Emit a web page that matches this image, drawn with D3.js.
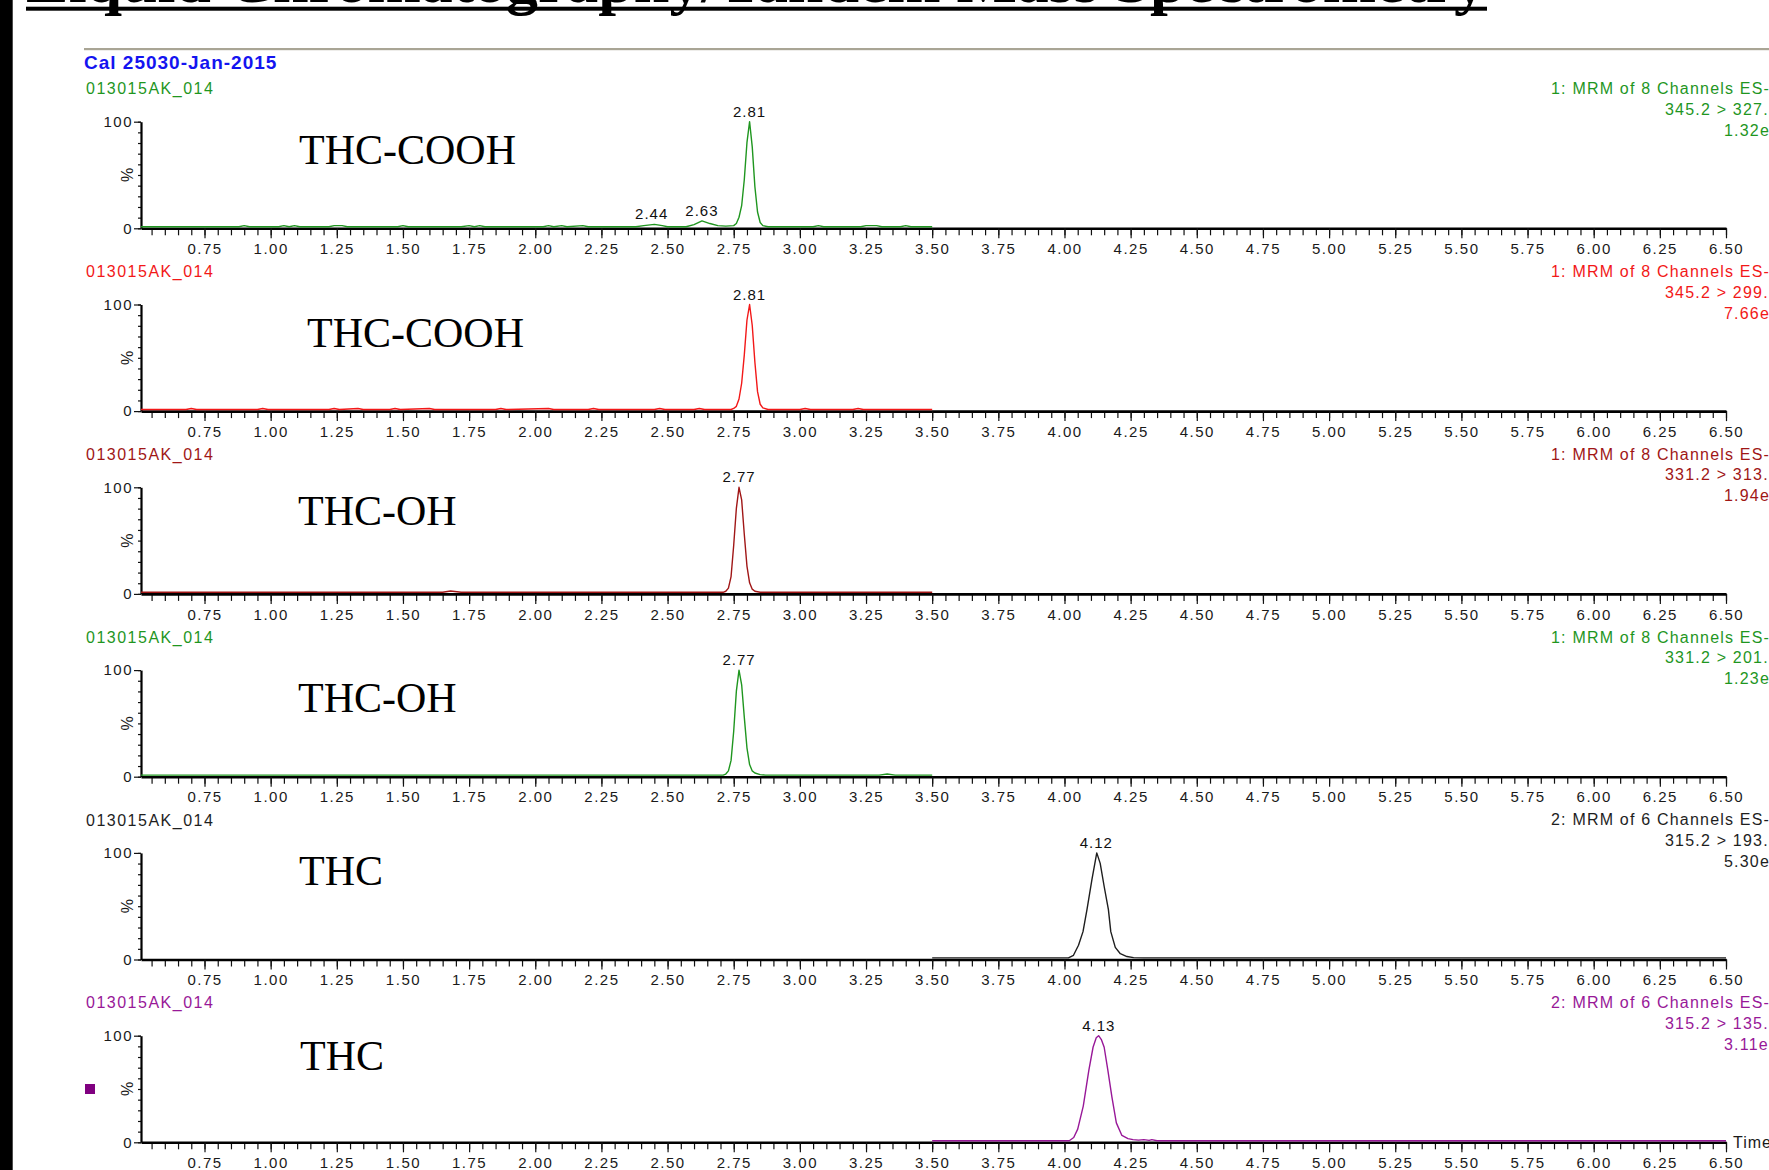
<!DOCTYPE html>
<html>
<head>
<meta charset="utf-8">
<script src="https://cdn.jsdelivr.net/npm/d3@7"></script>
<style>
  html, body { margin: 0; padding: 0; background: #fff; overflow: hidden; }
  svg { display: block; }
  text { font-family: "Liberation Sans", Arial, sans-serif; }
</style>
</head>
<body>
<svg id="chart" width="1769" height="1170"></svg>
<script>
// ---- data ----
const title = 'Liquid Chromatography/Tandem Mass Spectrometry';
const runLabel = 'Cal 25030-Jan-2015';
const sampleId = '013015AK_014';
const compounds = ['THC-COOH', 'THC-COOH', 'THC-OH', 'THC-OH', 'THC', 'THC'];
const channels = [
  '1: MRM of 8 Channels ES-', '1: MRM of 8 Channels ES-', '1: MRM of 8 Channels ES-',
  '1: MRM of 8 Channels ES-', '2: MRM of 6 Channels ES-', '2: MRM of 6 Channels ES-'
];
const transitions = ['345.2 > 327.', '345.2 > 299.', '331.2 > 313.', '331.2 > 201.', '315.2 > 193.', '315.2 > 135.'];
const intensities = ['1.32e', '7.66e', '1.94e', '1.23e', '5.30e', '3.11e'];
const tickLabels = ['0.75', '1.00', '1.25', '1.50', '1.75', '2.00', '2.25', '2.50', '2.75', '3.00',
  '3.25', '3.50', '3.75', '4.00', '4.25', '4.50', '4.75', '5.00', '5.25', '5.50', '5.75', '6.00', '6.25', '6.50'];

// [time (min), intensity (%)]
const cooh327 = [[0.51,0],[0.88,0],[0.90,1],[0.92,0],[1.03,0],[1.05,1],[1.07,0],[1.09,1],[1.11,0],[1.22,0],
  [1.24,1],[1.27,1],[1.29,0],[1.48,0],[1.50,1],[1.52,0],[1.72,0],[1.75,1],[1.77,0],[1.79,1],[1.81,0],
  [2.03,0],[2.05,1],[2.07,0],[2.10,1],[2.12,0],[2.18,1],[2.20,0],[2.38,0],[2.41,1],[2.45,2.2],[2.48,1],
  [2.50,0],[2.57,0],[2.60,2],[2.63,5.5],[2.66,3],[2.69,1],[2.72,0.5],[2.75,1],[2.76,3],[2.77,9],[2.78,20],
  [2.79,45],[2.80,80],[2.81,100],[2.82,76],[2.83,38],[2.84,14],[2.85,4],[2.86,1],[2.88,0],[3.05,0],
  [3.07,1],[3.09,0],[3.23,0],[3.25,1],[3.29,1],[3.31,0],[3.38,0],[3.40,1],[3.42,0],[3.50,0]];
const cooh299 = [[0.51,0],[0.68,0],[0.70,1],[0.72,0],[0.95,0],[0.97,1],[0.99,0],[1.22,0],[1.24,1],[1.26,0],
  [1.33,1],[1.35,0],[1.45,0],[1.47,1],[1.49,0],[1.60,1],[1.62,0],[1.85,0],[1.87,1],[1.89,0],[2.05,1],
  [2.07,0],[2.20,0],[2.22,1],[2.24,0],[2.45,0],[2.47,1],[2.49,0],[2.60,0],[2.62,1],[2.64,0],[2.74,0],
  [2.75,1],[2.76,3],[2.77,10],[2.78,25],[2.79,52],[2.80,85],[2.81,100],[2.82,80],[2.83,45],[2.84,17],
  [2.85,5],[2.86,1.5],[2.88,0],[3.00,0],[3.02,1],[3.04,0],[3.20,0],[3.22,1],[3.24,0],[3.50,0]];
const oh313 = [[0.51,0],[1.65,0],[1.68,1.2],[1.72,0],[2.71,0],[2.72,1],[2.73,4],[2.74,15],[2.75,45],
  [2.76,80],[2.77,100],[2.78,88],[2.79,55],[2.80,25],[2.81,9],[2.82,3],[2.83,1],[2.85,0],[3.50,0]];
const oh201 = [[0.51,0],[2.71,0],[2.72,1],[2.73,4],[2.74,14],[2.75,42],[2.76,80],[2.77,100],[2.78,86],
  [2.79,55],[2.80,26],[2.81,10],[2.82,4],[2.83,2],[2.85,0.5],[2.87,0],[3.30,0],[3.33,1],[3.36,0],[3.50,0]];
const thc193 = [[3.50,0],[4.015,0],[4.034,2.5],[4.053,12],[4.070,25],[4.085,46],[4.104,75],[4.122,100],
  [4.135,90],[4.150,68],[4.166,46],[4.175,25],[4.192,10],[4.211,4],[4.236,1.3],[4.261,0.3],[4.30,0],[6.50,0]];
const thc135 = [[3.50,0],[4.018,0],[4.035,3],[4.050,11],[4.071,33],[4.092,67],[4.108,89],[4.12,98],
  [4.129,100],[4.14,96],[4.150,89],[4.164,67],[4.179,42],[4.196,17],[4.217,5],[4.24,2],[4.259,1],
  [4.28,0.5],[4.30,1],[4.32,0.3],[4.33,1],[4.35,0],[6.50,0]];
const traces = [cooh327, cooh299, oh313, oh201, thc193, thc135];

// labelled peaks: [retention time, height %]
const peaks = [
  [[2.44, 2.2], [2.63, 5.5], [2.81, 100]],
  [[2.81, 100]],
  [[2.77, 100]],
  [[2.77, 100]],
  [[4.12, 100]],
  [[4.13, 100]]
];

// ---- layout / styles ----
const width = 1769, height = 1170;
const plotLeft = 141, plotRight = 1726;
const firstTop = 121.7, panelStep = 182.8, plotH = 106.6;
const colors = ['#1f961f', '#f21818', '#a01616', '#1f961f', '#1e1e1e', '#981898'];
const nameSpots = [[299, 42], [307, 42.5], [298, 38], [298, 42], [299, 32], [300, 34]];

const svg = d3.select('#chart');
svg.append('rect').attr('width', width).attr('height', height).attr('fill', '#fff');

// page furniture above the chromatograms
svg.append('rect').attr('x', 0).attr('y', 0).attr('width', 12.7).attr('height', height).attr('fill', '#000');
svg.append('text')
  .attr('x', 26).attr('y', 2)
  .attr('textLength', 1460).attr('lengthAdjust', 'spacingAndGlyphs')
  .style('font-family', '"Liberation Serif", "Times New Roman", serif')
  .style('font-weight', 'bold').style('font-size', '64px')
  .text(title);
svg.append('rect').attr('x', 26).attr('y', 6.7).attr('width', 1461).attr('height', 4).attr('fill', '#000');
svg.append('rect').attr('x', 84).attr('y', 48).attr('width', width - 84).attr('height', 2.2).attr('fill', '#a9a595');
svg.append('text')
  .attr('x', 84).attr('y', 69)
  .attr('fill', '#1414f0')
  .style('font-weight', 'bold').style('font-size', '19px').style('letter-spacing', '1px')
  .text(runLabel);

const x = d3.scaleLinear().domain([0.51, 6.5]).range([plotLeft, plotRight]);
const majorTicks = tickLabels.map(Number);
const minorTicks = d3.range(11, 131).map(i => i * 0.05);

const yAxisScale = d3.scaleLinear().domain([0, 100]).range([plotH, 0]);
const yTrace = d3.scaleLinear().domain([0, 100]).range([plotH - 1.6, 0]);

const line = d3.line()
  .x(d => x(d[0]))
  .y(d => yTrace(d[1]));

traces.forEach((trace, i) => {
  const top = firstTop + i * panelStep;
  const color = colors[i];
  const g = svg.append('g').attr('transform', `translate(0,${top})`);

  // x axis: minor ticks every 0.05, labelled ticks every 0.25
  g.append('g')
    .attr('transform', `translate(0,${plotH})`)
    .call(d3.axisBottom(x).tickValues(minorTicks).tickSize(7).tickSizeOuter(0).tickFormat(''))
    .call(a => a.select('.domain').remove())
    .call(a => a.selectAll('line').attr('stroke', '#111').attr('stroke-width', 1.2));

  g.append('g')
    .attr('transform', `translate(0,${plotH})`)
    .call(d3.axisBottom(x).tickValues(majorTicks).tickSize(10).tickSizeOuter(0).tickPadding(5)
      .tickFormat(d3.format('.2f')))
    .call(a => a.select('.domain').attr('stroke', '#000').attr('stroke-width', 2.6))
    .call(a => a.selectAll('line').attr('stroke', '#111').attr('stroke-width', 1.2))
    .call(a => a.selectAll('text')
      .attr('fill', '#1a1a1a')
      .style('font-family', '"Liberation Sans", Arial, sans-serif')
      .style('font-size', '15px').style('letter-spacing', '1.5px'));

  // y axis: ticks every 10 %, labels at 0 and 100
  g.append('g')
    .attr('transform', `translate(${plotLeft},0)`)
    .call(d3.axisLeft(yAxisScale).tickValues(d3.range(0, 101, 10)).tickSize(3).tickSizeOuter(0).tickFormat(''))
    .call(a => a.select('.domain').remove())
    .call(a => a.selectAll('line').attr('stroke', '#111').attr('stroke-width', 1.2));

  g.append('g')
    .attr('transform', `translate(${plotLeft},0)`)
    .call(d3.axisLeft(yAxisScale).tickValues([0, 100]).tickSize(7).tickSizeOuter(0).tickPadding(1))
    .call(a => a.select('.domain').attr('stroke', '#000').attr('stroke-width', 2.2))
    .call(a => a.selectAll('line').attr('stroke', '#111').attr('stroke-width', 1.2))
    .call(a => a.selectAll('text')
      .attr('fill', '#1a1a1a')
      .style('font-family', '"Liberation Sans", Arial, sans-serif')
      .style('font-size', '15px').style('letter-spacing', '1.5px'));

  g.append('text')
    .attr('transform', `translate(127,${yAxisScale(50)}) rotate(-90)`)
    .attr('text-anchor', 'middle').attr('dy', '0.35em')
    .attr('fill', '#1a1a1a')
    .style('font-size', '16px')
    .text('%');

  // trace
  g.append('path')
    .datum(trace)
    .attr('fill', 'none')
    .attr('stroke', color)
    .attr('stroke-width', 1.4)
    .attr('stroke-linejoin', 'round')
    .attr('d', line);

  // peak retention time labels
  g.selectAll('.peak')
    .data(peaks[i])
    .join('text')
    .attr('class', 'peak')
    .attr('x', d => x(d[0]))
    .attr('y', d => yTrace(d[1]) - 5)
    .attr('text-anchor', 'middle')
    .attr('fill', '#111')
    .style('font-size', '15px').style('letter-spacing', '1px')
    .text(d => d[0].toFixed(2));

  // headers
  g.append('text')
    .attr('x', 86).attr('y', -27.4)
    .attr('fill', color)
    .style('font-size', '16px').style('letter-spacing', '1.5px')
    .text(sampleId);

  const right = [[1551, -27.5, channels[i]], [1665, -7, transitions[i]], [1724, 14, intensities[i]]];
  g.selectAll('.hdr')
    .data(right)
    .join('text')
    .attr('class', 'hdr')
    .attr('x', d => d[0]).attr('y', d => d[1])
    .attr('fill', color)
    .style('font-size', '16px').style('letter-spacing', '1.2px')
    .text(d => d[2]);

  // compound name
  g.append('text')
    .attr('x', nameSpots[i][0]).attr('y', nameSpots[i][1])
    .attr('fill', '#000')
    .style('font-family', '"Liberation Serif", "Times New Roman", serif')
    .style('font-size', '42px')
    .text(compounds[i]);

  if (i === traces.length - 1) {
    g.append('text')
      .attr('x', 1733).attr('y', plotH + 6)
      .attr('fill', '#1a1a1a')
      .style('font-size', '16px').style('letter-spacing', '1px')
      .text('Time');
    g.append('rect')
      .attr('x', 85).attr('y', yAxisScale(50) - 5)
      .attr('width', 10).attr('height', 10)
      .attr('fill', '#800080');
  }
});
</script>
</body>
</html>
